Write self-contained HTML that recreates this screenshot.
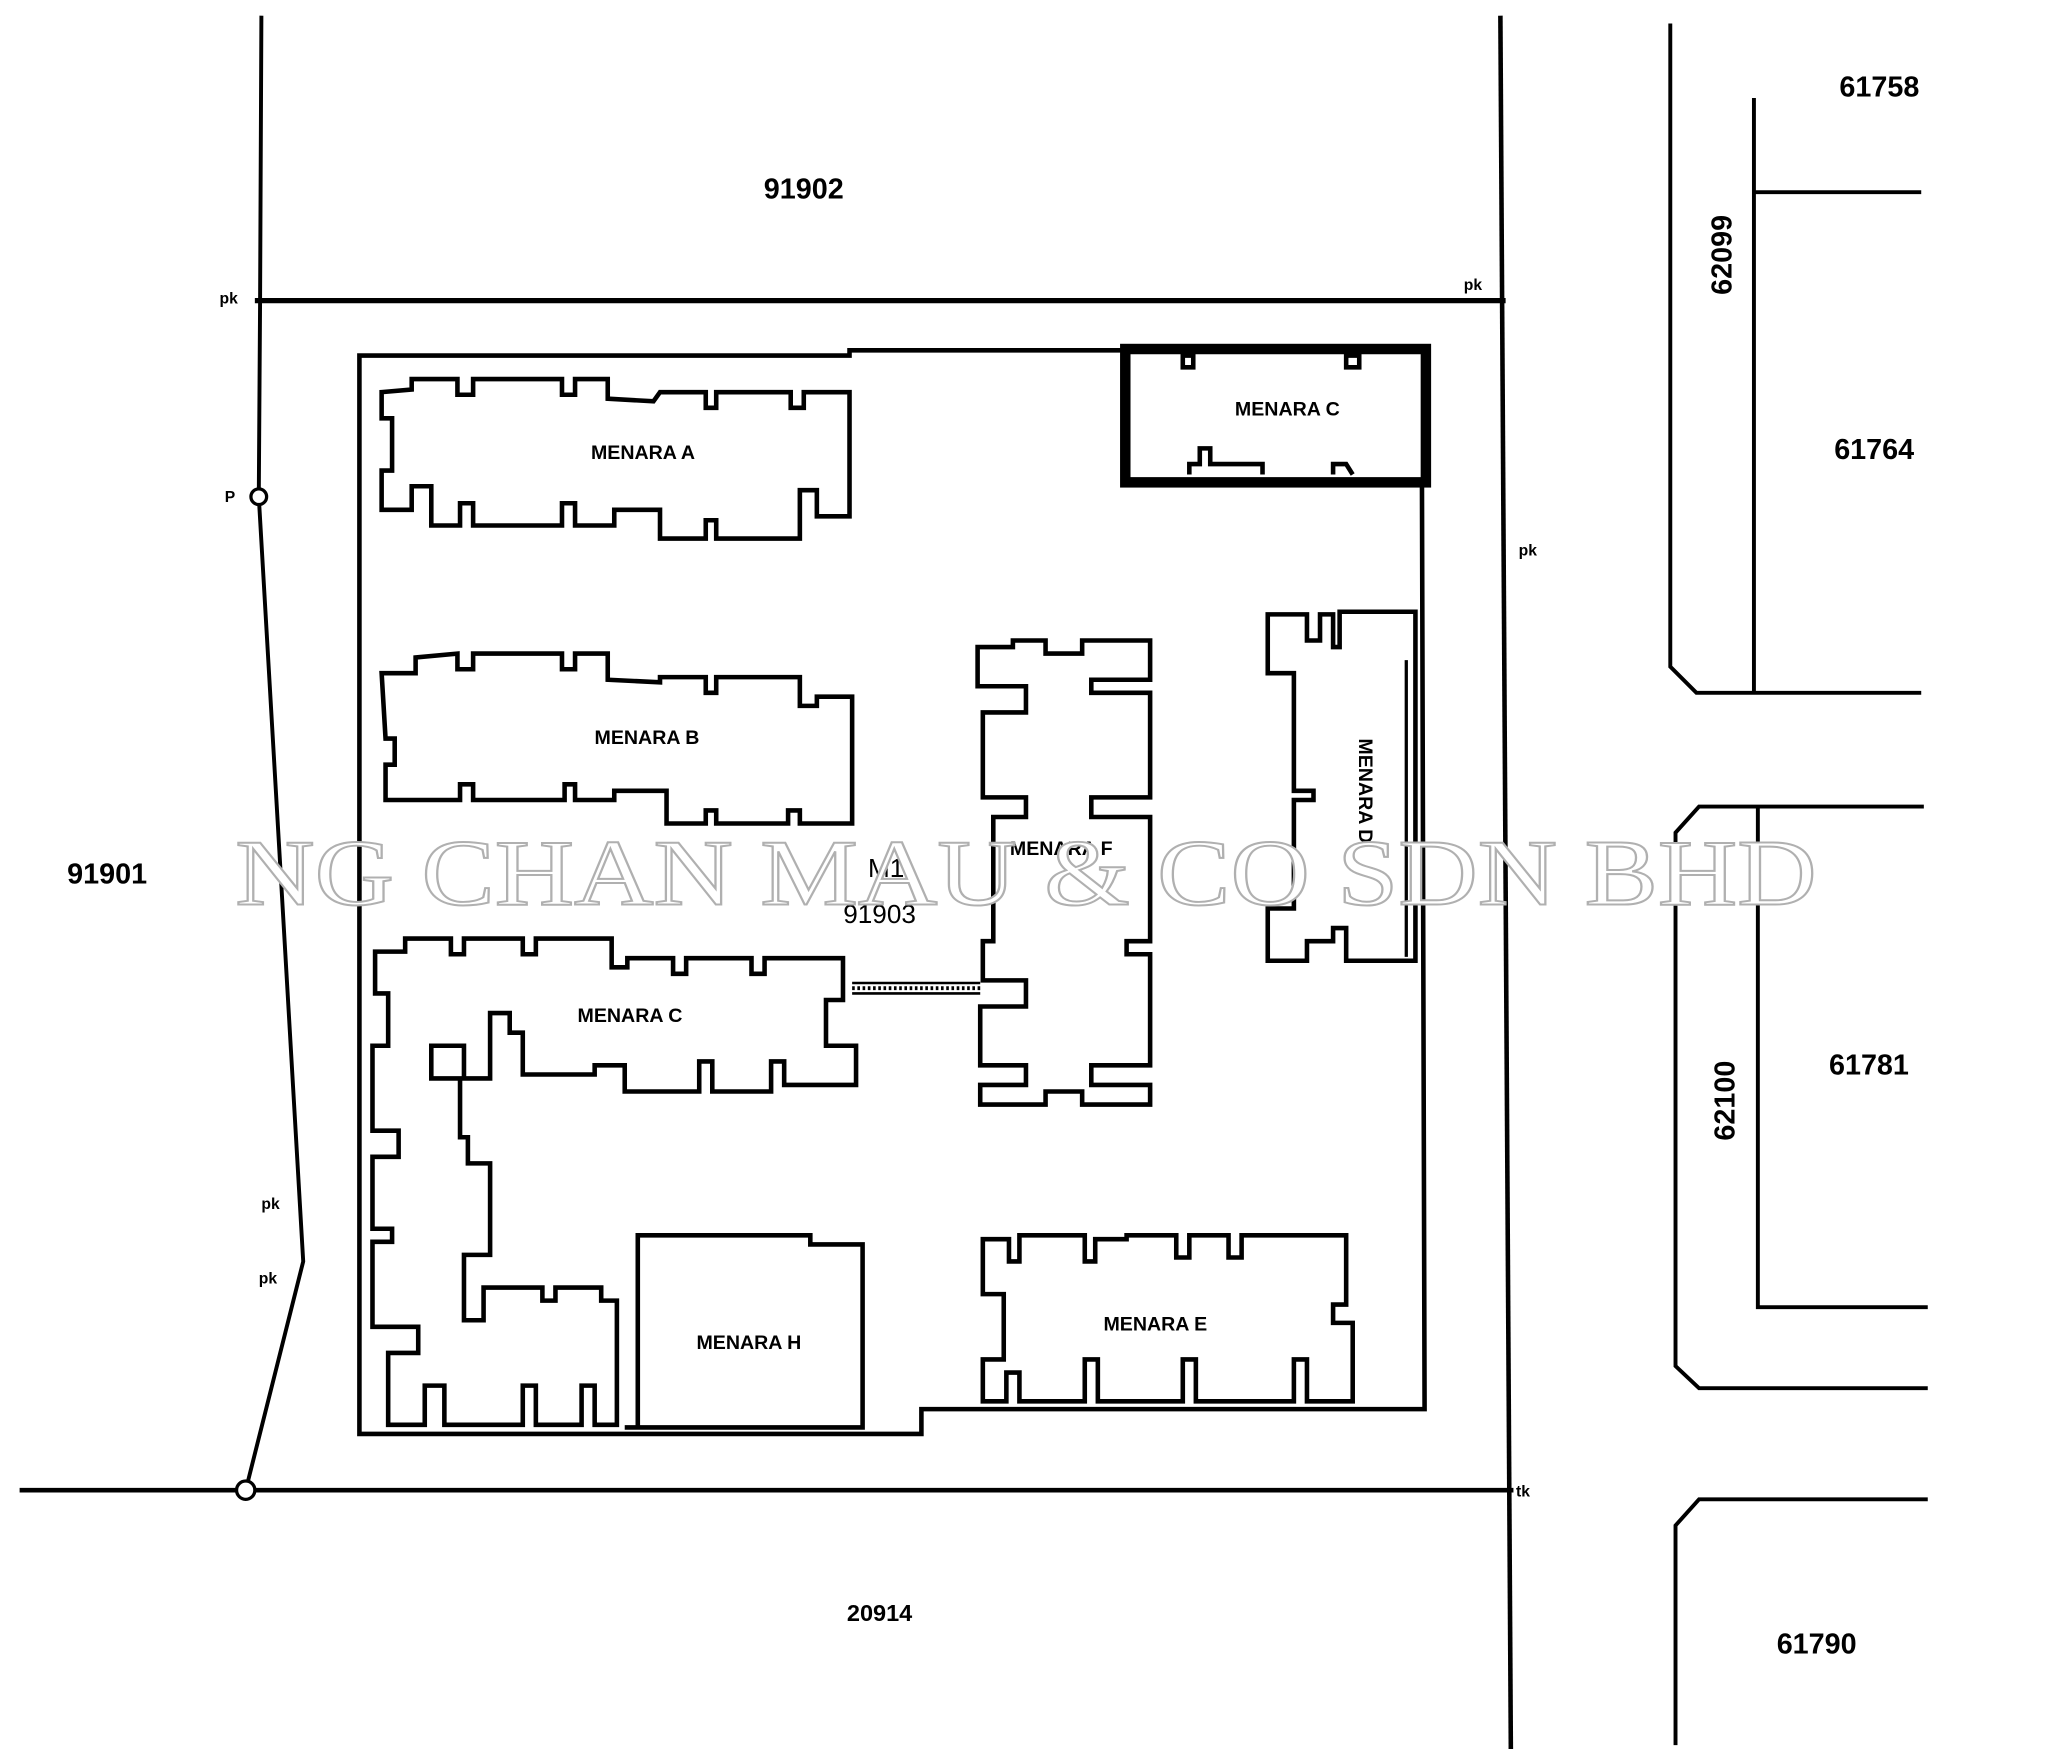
<!DOCTYPE html>
<html><head><meta charset="utf-8"><style>
html,body{margin:0;padding:0;background:#fff;}
svg{display:block;}
.b{fill:none;stroke:#000;stroke-width:3.5;stroke-linejoin:miter}
.l{fill:none;stroke:#000;stroke-width:3}
.t{font-family:"Liberation Sans",sans-serif;font-weight:bold;fill:#000}
</style></head><body>
<svg width="2048" height="1749" viewBox="0 0 1567 1338" preserveAspectRatio="none" xmlns="http://www.w3.org/2000/svg">
<rect width="1567" height="1338" fill="#fff"/>
<polyline class="l" points="200,12 199,230 198,380 232,965 188,1140"/>
<line class="l" x1="195" y1="230" x2="1152" y2="230" style="stroke-width:4"/>
<line class="l" x1="1148" y1="12" x2="1156" y2="1338" style="stroke-width:3.5"/>
<line class="l" x1="15" y1="1140" x2="1158" y2="1140" style="stroke-width:3.5"/>
<circle cx="198" cy="380" r="6" fill="#fff" stroke="#000" stroke-width="2.5"/>
<circle cx="188" cy="1140" r="7" fill="#fff" stroke="#000" stroke-width="2.5"/>
<path class="l" d="M1278,18 L1278,510 L1298,530 L1470,530"/>
<path class="l" d="M1342,530 L1342,75"/>
<path class="l" d="M1342,147 L1470,147"/>
<path class="l" d="M1472,617 L1300,617 L1282,637 L1282,1045 L1300,1062 L1475,1062"/>
<path class="l" d="M1345,617 L1345,1000 L1475,1000"/>
<path class="l" d="M1475,1147 L1300,1147 L1282,1167 L1282,1335"/>
<path class="b" d="M858,268 L650,268 L650,272 L275,272 L275,1097 L705,1097 L705,1078 L1090,1078 L1088,372"/>
<rect x="861" y="267" width="230" height="102" fill="none" stroke="#000" stroke-width="8"/>
<path class="b" d="M905,272 h8 v9 h-8 z M1030,272 h10 v9 h-10z M910,363 v-8 h8 v-12 h8 v12 h40 v8 M1020,363 v-8 h10 l5,8"/>
<path class="b" d="M292,300 L315,298 L315,290 L350,290 L350,302 L362,302 L362,290 L430,290 L430,302 L440,302 L440,290 L465,290 L465,305 L500,307 L505,300 L540,300 L540,312 L548,312 L548,300 L605,300 L605,312 L615,312 L615,300 L650,300 L650,395 L625,395 L625,375 L612,375 L612,412 L548,412 L548,398 L540,398 L540,412 L505,412 L505,390 L470,390 L470,402 L440,402 L440,385 L430,385 L430,402 L362,402 L362,385 L352,385 L352,402 L330,402 L330,372 L315,372 L315,390 L292,390 L292,360 L300,360 L300,320 L292,320 Z"/>
<path class="b" d="M292,515 L318,515 L318,503 L350,500 L350,512 L362,512 L362,500 L430,500 L430,512 L440,512 L440,500 L465,500 L465,520 L505,522 L505,518 L540,518 L540,530 L548,530 L548,518 L612,518 L612,540 L625,540 L625,533 L652,533 L652,630 L612,630 L612,620 L603,620 L603,630 L548,630 L548,620 L540,620 L540,630 L510,630 L510,605 L470,605 L470,612 L440,612 L440,600 L432,600 L432,612 L362,612 L362,600 L352,600 L352,612 L295,612 L295,585 L302,585 L302,565 L295,565 Z"/>
<path class="b" d="M287,728 L310,728 L310,718 L345,718 L345,730 L355,730 L355,718 L400,718 L400,730 L410,730 L410,718 L468,718 L468,740 L480,740 L480,733 L515,733 L515,745 L525,745 L525,733 L575,733 L575,745 L585,745 L585,733 L645,733 L645,765 L632,765 L632,800 L655,800 L655,830 L600,830 L600,812 L590,812 L590,835 L545,835 L545,812 L535,812 L535,835 L478,835 L478,815 L455,815 L455,822 L400,822 L400,790 L390,790 L390,775 L375,775 L375,825 L355,825 L355,800 L330,800 L330,825 L352,825 L352,870 L358,870 L358,890 L375,890 L375,960 L355,960 L355,1010 L370,1010 L370,985 L415,985 L415,995 L425,995 L425,985 L460,985 L460,995 L472,995 L472,1090 L455,1090 L455,1060 L445,1060 L445,1090 L410,1090 L410,1060 L400,1060 L400,1090 L340,1090 L340,1060 L325,1060 L325,1090 L297,1090 L297,1035 L320,1035 L320,1015 L285,1015 L285,950 L300,950 L300,940 L285,940 L285,885 L305,885 L305,865 L285,865 L285,800 L297,800 L297,760 L287,760 Z"/>
<line x1="652" y1="752" x2="750" y2="752" stroke="#000" stroke-width="2"/>
<line x1="652" y1="760" x2="750" y2="760" stroke="#000" stroke-width="2"/>
<line x1="652" y1="756" x2="750" y2="756" stroke="#000" stroke-width="3" stroke-dasharray="2,2"/>
<path class="b" d="M748,495 L775,495 L775,490 L800,490 L800,500 L828,500 L828,490 L880,490 L880,520 L835,520 L835,530 L880,530 L880,610 L835,610 L835,625 L880,625 L880,720 L862,720 L862,730 L880,730 L880,815 L835,815 L835,830 L880,830 L880,845 L828,845 L828,835 L800,835 L800,845 L750,845 L750,830 L785,830 L785,815 L750,815 L750,770 L785,770 L785,750 L752,750 L752,720 L760,720 L760,625 L785,625 L785,610 L752,610 L752,545 L785,545 L785,525 L748,525 Z"/>
<path class="b" d="M970,470 L1000,470 L1000,490 L1010,490 L1010,470 L1020,470 L1020,495 L1025,495 L1025,468 L1083,468 L1083,735 L1030,735 L1030,710 L1020,710 L1020,720 L1000,720 L1000,735 L970,735 L970,695 L990,695 L990,612 L1005,612 L1005,605 L990,605 L990,515 L970,515 Z"/>
<line x1="1076" y1="505" x2="1076" y2="732" stroke="#000" stroke-width="2.5"/>
<path class="b" d="M752,948 L772,948 L772,965 L780,965 L780,945 L830,945 L830,965 L838,965 L838,948 L862,948 L862,945 L900,945 L900,962 L910,962 L910,945 L940,945 L940,962 L950,962 L950,945 L1030,945 L1030,998 L1020,998 L1020,1012 L1035,1012 L1035,1072 L1000,1072 L1000,1040 L990,1040 L990,1072 L915,1072 L915,1040 L905,1040 L905,1072 L840,1072 L840,1040 L830,1040 L830,1072 L780,1072 L780,1050 L770,1050 L770,1072 L752,1072 L752,1040 L768,1040 L768,990 L752,990 Z"/>
<path class="b" d="M478,1092 L488,1092 L488,945 L620,945 L620,952 L660,952 L660,1092 Z"/>
<g class="t" font-size="22" text-anchor="middle">
<text x="615" y="152">91902</text>
<text x="1438" y="74">61758</text>
<text x="1434" y="351">61764</text>
<text x="1430" y="822">61781</text>
<text x="1390" y="1265">61790</text>
<text x="82" y="676">91901</text>
<text x="673" y="1240" font-size="18">20914</text>
<text x="0" y="0" transform="translate(1325,195) rotate(-90)">62099</text>
<text x="0" y="0" transform="translate(1327,842) rotate(-90)">62100</text>
<text x="678" y="671" font-size="20" font-weight="normal">M1</text>
<text x="673" y="706" font-size="20" font-weight="normal">91903</text>
</g>
<g class="t" font-size="15" text-anchor="middle">
<text x="492" y="351">MENARA A</text>
<text x="495" y="569">MENARA B</text>
<text x="482" y="782">MENARA C</text>
<text x="985" y="318">MENARA C</text>
<text x="812" y="654">MENARA F</text>
<text x="884" y="1018">MENARA E</text>
<text x="573" y="1032">MENARA H</text>
<text x="0" y="0" transform="translate(1040,605) rotate(90)">MENARA D</text>
</g>
<g class="t" font-size="12">
<text x="168" y="232">pk</text>
<text x="1120" y="222">pk</text>
<text x="1162" y="425">pk</text>
<text x="172" y="384">P</text>
<text x="200" y="925">pk</text>
<text x="198" y="982">pk</text>
<text x="1160" y="1145">tk</text>
</g>
<text x="180" y="692" font-family="Liberation Serif,serif" font-size="72" fill="#fff" stroke="#b0b0b0" stroke-width="1.5" textLength="1210" lengthAdjust="spacingAndGlyphs">NG CHAN MAU &amp; CO SDN BHD</text>
</svg>
</body></html>
